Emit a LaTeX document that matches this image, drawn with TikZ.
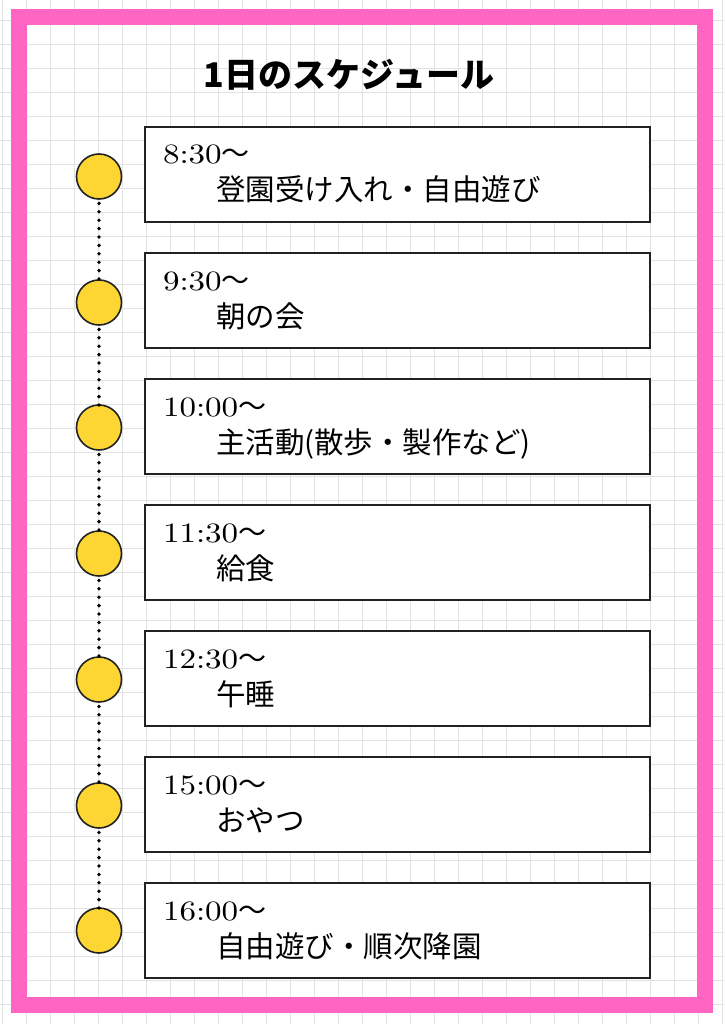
\documentclass[tikz,border=0pt]{standalone}
\usepackage{fontspec}
\usepackage{tikz}
\newfontfamily\cjk{Noto Sans CJK JP}
\newfontfamily\timefont{lmroman10-regular.otf}[FakeStretch=1.18]
\usetikzlibrary{positioning}
\definecolor{borderpink}{RGB}{255,102,196}
\definecolor{dotyellow}{RGB}{253,214,51}
\definecolor{gridgray}{RGB}{226,226,226}
\definecolor{inkdark}{RGB}{34,34,34}

\begin{document}
\begin{tikzpicture}[x=1pt, y=-1pt, node distance=31pt, outer sep=0pt,
    slot/.style={rectangle, draw=inkdark, line width=1.3pt, fill=white, minimum width=505pt, minimum height=95pt, inner sep=0pt},
    bullet/.style={circle, draw=inkdark, line width=1.6pt, fill=dotyellow, minimum size=45pt, inner sep=0pt},
    dotline/.style={black, line width=3.8pt, line cap=round, dash pattern=on 0pt off 8.4pt, dash phase=4pt},
    gridline/.style={gridgray, line width=0.9pt},
    timelabel/.style={anchor=base west, inner sep=0pt, font=\fontsize{28}{30}\timefont},
    actlabel/.style={anchor=base west, inner sep=0pt, font=\fontsize{29.5}{32}\cjk},
    titlelabel/.style={inner sep=0pt, font=\fontsize{34}{38}\cjk\bfseries}]
    \useasboundingbox (0,0) rectangle (724,1024);
    \fill[white] (0,0) rectangle (724,1024);
    % grid paper
    \foreach \gx in {0,...,30} \draw[gridline] ({2.7+24*\gx},0) -- ++(0,1024);
    \foreach \gy in {0,...,41} \draw[gridline] (0,{20.7+24*\gy}) -- ++(724,0);
    \draw[borderpink, line width=16pt] (19,17) rectangle (705,1005);

    \node (title) [titlelabel] at (349,75) {1日のスケジュール};

    \node (b1) [slot, anchor=north west] at (145,127) {};
    \node (b2) [slot, below=of b1] {};
    \node (b3) [slot, below=of b2] {};
    \node (b4) [slot, below=of b3] {};
    \node (b5) [slot, below=of b4] {};
    \node (b6) [slot, below=of b5] {};
    \node (b7) [slot, below=of b6] {};

    \node (c1) [bullet, left=23.5pt of b1, yshift=-2pt] {};
    \node (c2) [bullet, left=23.5pt of b2, yshift=-2pt] {};
    \node (c3) [bullet, left=23.5pt of b3, yshift=-1pt] {};
    \node (c4) [bullet, left=23.5pt of b4, yshift=-1pt] {};
    \node (c5) [bullet, left=23.5pt of b5, yshift=-1pt] {};
    \node (c6) [bullet, left=23.5pt of b6, yshift=-1pt] {};
    \node (c7) [bullet, left=23.5pt of b7] {};

    \draw[dotline] (c1.south) -- (c2.north);
    \draw[dotline] (c2.south) -- (c3.north);
    \draw[dotline] (c3.south) -- (c4.north);
    \draw[dotline] (c4.south) -- (c5.north);
    \draw[dotline] (c5.south) -- (c6.north);
    \draw[dotline] (c6.south) -- (c7.north);

    \node (t1) [timelabel, xshift=18pt, yshift=-37pt] at (b1.north west) {8:30{\cjk ～}};
    \node (a1) [actlabel, xshift=71pt, yshift=-74pt] at (b1.north west) {登園受け入れ・自由遊び};
    \node (t2) [timelabel, xshift=18pt, yshift=-37pt] at (b2.north west) {9:30{\cjk ～}};
    \node (a2) [actlabel, xshift=71pt, yshift=-74pt] at (b2.north west) {朝の会};
    \node (t3) [timelabel, xshift=18pt, yshift=-37pt] at (b3.north west) {10:00{\cjk ～}};
    \node (a3) [actlabel, xshift=71pt, yshift=-74pt] at (b3.north west) {主活動(散歩・製作など)};
    \node (t4) [timelabel, xshift=18pt, yshift=-37pt] at (b4.north west) {11:30{\cjk ～}};
    \node (a4) [actlabel, xshift=71pt, yshift=-74pt] at (b4.north west) {給食};
    \node (t5) [timelabel, xshift=18pt, yshift=-37pt] at (b5.north west) {12:30{\cjk ～}};
    \node (a5) [actlabel, xshift=71pt, yshift=-74pt] at (b5.north west) {午睡};
    \node (t6) [timelabel, xshift=18pt, yshift=-37pt] at (b6.north west) {15:00{\cjk ～}};
    \node (a6) [actlabel, xshift=71pt, yshift=-74pt] at (b6.north west) {おやつ};
    \node (t7) [timelabel, xshift=18pt, yshift=-37pt] at (b7.north west) {16:00{\cjk ～}};
    \node (a7) [actlabel, xshift=71pt, yshift=-74pt] at (b7.north west) {自由遊び・順次降園};
\end{tikzpicture}
\end{document}
